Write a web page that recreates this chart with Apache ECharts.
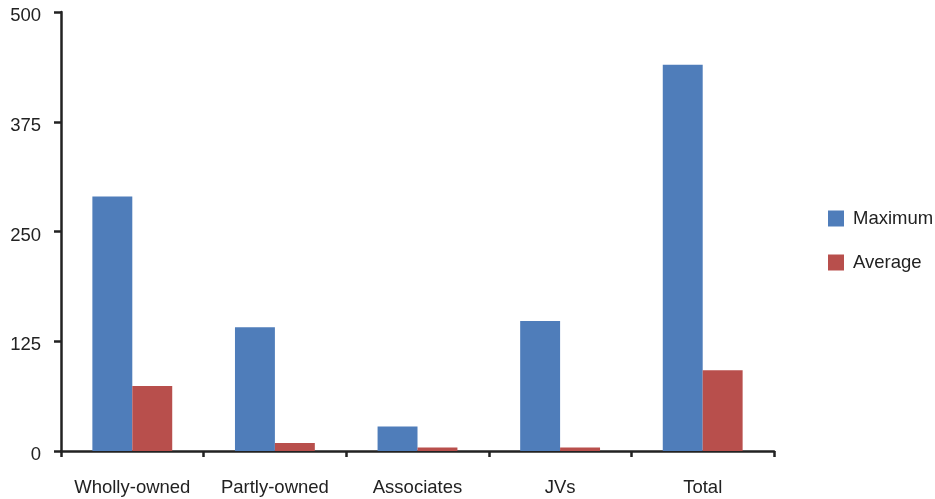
<!DOCTYPE html>
<html><head><meta charset="utf-8">
<script src="https://cdn.jsdelivr.net/npm/echarts@6/dist/echarts.min.js"></script>
<style>html,body{margin:0;padding:0;background:#fff}#c{width:935px;height:499px}</style>
</head><body><div id="c"></div>
<script>
const categories = ['Wholly-owned','Partly-owned','Associates','JVs','Total'];
const maximum = [290, 141, 28, 148, 440];
const average = [74, 9, 4, 4, 92];
const yTicks = [0, 125, 250, 375, 500];

const chart = echarts.init(document.getElementById('c'));
const axisCol = '#222';
const font = '"Liberation Sans", Arial, Helvetica, sans-serif';
const fs = 18.5;
chart.setOption({
  animation: false,
  textStyle: {fontFamily: font},
  grid: {left: 61, top: 12, right: 161, bottom: 48, containLabel: false},
  legend: {
    orient: 'vertical', left: 828, top: 209, padding: 0, itemWidth: 16, itemHeight: 16, itemGap: 25,
    icon: 'rect',
    textStyle: {fontSize: fs, color: '#222', fontFamily: font, padding: [0,0,0,4]},
    data: ['Maximum','Average']
  },
  xAxis: {
    type: 'category', data: categories,
    axisLine: {lineStyle: {color: axisCol, width: 2.5}},
    axisTick: {show: true, interval: 0, length: 6, lineStyle: {color: axisCol, width: 2.5}},
    axisLabel: {interval: 0, fontSize: fs, color: '#222', margin: 27, fontFamily: font},
    splitLine: {show: false}
  },
  yAxis: {
    type: 'value', min: yTicks[0], max: yTicks[yTicks.length-1], interval: 125,
    axisLine: {show: true, lineStyle: {color: axisCol, width: 2.5}},
    axisTick: {show: true, length: 7, lineStyle: {color: axisCol, width: 2.5}},
    axisLabel: {
      fontSize: fs, color: '#222', margin: 20, fontFamily: font,
      formatter: '{a|{value}}',
      rich: {a: {fontSize: fs, color: '#222', fontFamily: font, padding: [8,0,0,0]}}
    },
    splitLine: {show: false}
  },
  series: [
    {name: 'Maximum', type: 'bar', data: maximum, barGap: '0%', barCategoryGap: '44%', itemStyle: {color: '#4F7DBA'}},
    {name: 'Average', type: 'bar', data: average, barGap: '0%', barCategoryGap: '44%', itemStyle: {color: '#B84F4C'}}
  ]
});
</script></body></html>
